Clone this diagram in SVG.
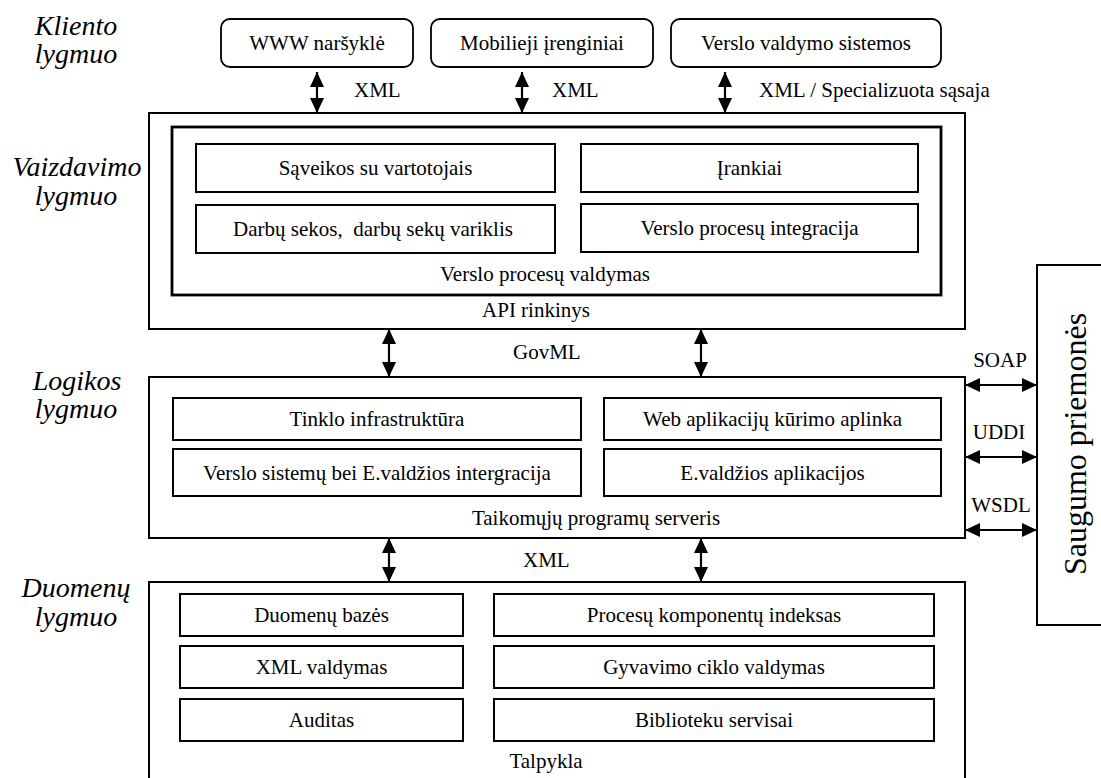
<svg xmlns="http://www.w3.org/2000/svg" width="1101" height="778" viewBox="0 0 1101 778">
  <defs>
    <marker id="head" viewBox="0 0 15 14" refX="15" refY="7" markerWidth="15" markerHeight="14" markerUnits="userSpaceOnUse" orient="auto-start-reverse">
      <path d="M0,0 L15,7 L0,14 z" fill="#000"/>
    </marker>
    <style>
      .t { font-size: 21px; text-anchor: middle; }
      .ts { font-size: 21px; }
      .lvl { font-size: 28px; font-style: italic; text-anchor: middle; }
      .box { fill: #fff; stroke: #000; stroke-width: 2; }
      .rbox { fill: #fff; stroke: #000; stroke-width: 1.8; }
      .frame { fill: none; stroke: #000; stroke-width: 2; }
      .inner { fill: none; stroke: #000; stroke-width: 2.8; }
      .arr { stroke: #000; stroke-width: 2.2; fill: none; marker-start: url(#head); marker-end: url(#head); }
    </style>
  </defs>
  <rect width="1101" height="778" fill="#fff"/>

  <g font-family="Liberation Serif, Times New Roman, DejaVu Serif, serif">
  <!-- tier captions -->
  <g id="tier-labels">
    <text class="lvl" x="76" y="35">Kliento</text>
    <text class="lvl" x="76" y="63">lygmuo</text>
    <text class="lvl" x="77" y="176">Vaizdavimo</text>
    <text class="lvl" x="76" y="205">lygmuo</text>
    <text class="lvl" x="77" y="390">Logikos</text>
    <text class="lvl" x="76" y="418">lygmuo</text>
    <text class="lvl" x="76" y="597">Duomenų</text>
    <text class="lvl" x="76" y="626">lygmuo</text>
  </g>

  <!-- client tier -->
  <g id="client-www">
    <rect class="rbox" x="221" y="19" width="192" height="48" rx="9"/>
    <text class="t" x="317" y="50">WWW naršyklė</text>
  </g>
  <g id="client-mobile">
    <rect class="rbox" x="431" y="19" width="222" height="48" rx="9"/>
    <text class="t" x="542" y="50">Mobilieji įrenginiai</text>
  </g>
  <g id="client-business">
    <rect class="rbox" x="671" y="19" width="270" height="48" rx="9"/>
    <text class="t" x="806" y="50">Verslo valdymo sistemos</text>
  </g>

  <!-- presentation tier -->
  <g id="presentation">
    <rect class="frame" x="149" y="113" width="816" height="216"/>
    <text class="t" x="536" y="317">API rinkinys</text>
  </g>
  <g id="bpm">
    <rect class="inner" x="172" y="127" width="769" height="168"/>
    <text class="t" x="545" y="281">Verslo procesų valdymas</text>
  </g>
  <g id="bpm-interaction">
    <rect class="box" x="196" y="144" width="359" height="48"/>
    <text class="t" x="375.5" y="175">Sąveikos su vartotojais</text>
  </g>
  <g id="bpm-tools">
    <rect class="box" x="581" y="144" width="337" height="48"/>
    <text class="t" x="749.5" y="175">Įrankiai</text>
  </g>
  <g id="bpm-workflow">
    <rect class="box" x="196" y="205" width="359" height="48"/>
    <text class="t" x="373" y="236" xml:space="preserve">Darbų sekos,  darbų sekų variklis</text>
  </g>
  <g id="bpm-integration">
    <rect class="box" x="581" y="204" width="337" height="48"/>
    <text class="t" x="749.5" y="235">Verslo procesų integracija</text>
  </g>

  <!-- logic tier -->
  <g id="logic">
    <rect class="frame" x="149" y="377" width="816" height="161"/>
    <text class="t" x="596" y="525">Taikomųjų programų serveris</text>
  </g>
  <g id="logic-network">
    <rect class="box" x="173" y="398" width="408" height="42"/>
    <text class="t" x="377" y="426">Tinklo infrastruktūra</text>
  </g>
  <g id="logic-webdev">
    <rect class="box" x="604" y="398" width="337" height="42"/>
    <text class="t" x="772.5" y="426">Web aplikacijų kūrimo aplinka</text>
  </g>
  <g id="logic-egov-integration">
    <rect class="box" x="173" y="449" width="408" height="47"/>
    <text class="t" x="377" y="480">Verslo sistemų bei E.valdžios intergracija</text>
  </g>
  <g id="logic-egov-apps">
    <rect class="box" x="604" y="449" width="337" height="47"/>
    <text class="t" x="772.5" y="480">E.valdžios aplikacijos</text>
  </g>

  <!-- data tier -->
  <g id="data">
    <rect class="frame" x="149" y="582" width="816" height="230"/>
    <text class="t" x="546" y="768">Talpykla</text>
  </g>
  <g id="data-db">
    <rect class="box" x="180" y="594" width="283" height="42"/>
    <text class="t" x="321.5" y="622">Duomenų bazės</text>
  </g>
  <g id="data-xml">
    <rect class="box" x="180" y="646" width="283" height="42"/>
    <text class="t" x="321.5" y="674">XML valdymas</text>
  </g>
  <g id="data-audit">
    <rect class="box" x="180" y="699" width="283" height="42"/>
    <text class="t" x="321.5" y="727">Auditas</text>
  </g>
  <g id="data-index">
    <rect class="box" x="494" y="594" width="440" height="42"/>
    <text class="t" x="714" y="622">Procesų komponentų indeksas</text>
  </g>
  <g id="data-lifecycle">
    <rect class="box" x="494" y="646" width="440" height="42"/>
    <text class="t" x="714" y="674">Gyvavimo ciklo valdymas</text>
  </g>
  <g id="data-library">
    <rect class="box" x="494" y="699" width="440" height="42"/>
    <text class="t" x="714" y="727">Biblioteku servisai</text>
  </g>

  <!-- security side panel -->
  <g id="security">
    <rect class="frame" x="1037" y="265" width="90" height="360"/>
    <text x="1086" y="444" font-size="32" text-anchor="middle" transform="rotate(-90 1086 444)">Saugumo priemonės</text>
  </g>

  <!-- connectors -->
  <g id="connectors">
    <line class="arr" x1="317" y1="72" x2="317" y2="113"/>
    <line class="arr" x1="522" y1="72" x2="522" y2="113"/>
    <line class="arr" x1="725" y1="72" x2="725" y2="113"/>
    <line class="arr" x1="389" y1="329" x2="389" y2="377"/>
    <line class="arr" x1="701" y1="329" x2="701" y2="377"/>
    <line class="arr" x1="389" y1="538" x2="389" y2="582"/>
    <line class="arr" x1="701" y1="538" x2="701" y2="582"/>
    <line class="arr" x1="965" y1="385" x2="1037" y2="385"/>
    <line class="arr" x1="965" y1="457" x2="1037" y2="457"/>
    <line class="arr" x1="965" y1="530" x2="1037" y2="530"/>
    <text class="ts" x="354" y="97">XML</text>
    <text class="ts" x="552" y="97">XML</text>
    <text class="ts" x="759" y="97">XML / Specializuota sąsaja</text>
    <text class="ts" x="513" y="359">GovML</text>
    <text class="ts" x="523" y="567">XML</text>
    <text class="t" x="1000" y="367">SOAP</text>
    <text class="t" x="999" y="439">UDDI</text>
    <text class="t" x="1001" y="512">WSDL</text>
  </g>
  </g>
</svg>
